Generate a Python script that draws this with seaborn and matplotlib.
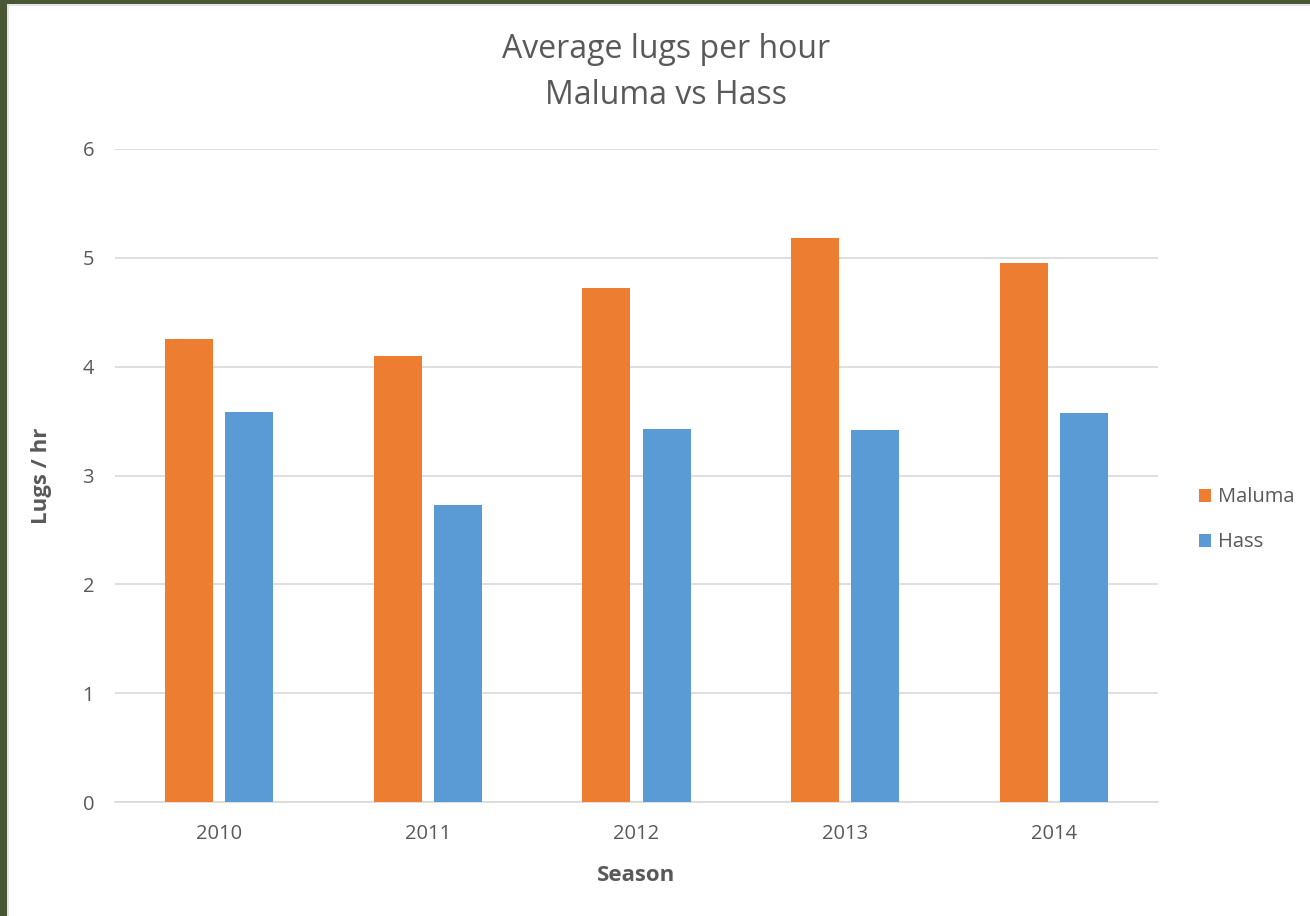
import matplotlib
matplotlib.use("Agg")
import matplotlib.pyplot as plt
import matplotlib.patches as mpatches
import seaborn as sns
import pandas as pd

seasons = ["2010", "2011", "2012", "2013", "2014"]
maluma = [4.25, 4.10, 4.72, 5.18, 4.95]
hass = [3.58, 2.73, 3.43, 3.42, 3.57]
series_names = ["Maluma", "Hass"]
colors = ["#ED7D31", "#5B9BD5"]

df = pd.DataFrame({
    "Season": seasons * 2,
    "Value": maluma + hass,
    "Variety": [series_names[0]] * len(seasons) + [series_names[1]] * len(seasons),
})

sns.set_theme(style="white")
plt.rcParams['font.family'] = ['Open Sans', 'DejaVu Sans']

fig = plt.figure(figsize=(13.1, 9.16), dpi=100)
fig.patch.set_facecolor("white")
# dark green frame on left and top
fig.patches.append(mpatches.Rectangle((0, 0), 7/1310, 1, transform=fig.transFigure,
                                      facecolor="#4a5735", edgecolor="none", zorder=0))
fig.patches.append(mpatches.Rectangle((0, 1 - 4/916), 1, 4/916, transform=fig.transFigure,
                                      facecolor="#4a5735", edgecolor="none", zorder=0))
fig.patches.append(mpatches.Rectangle((7/1310, 0), 2/1310, 1 - 4/916, transform=fig.transFigure,
                                      facecolor="#e4e4ea", edgecolor="none", zorder=0))
fig.patches.append(mpatches.Rectangle((7/1310, 1 - 6/916), 1, 2/916, transform=fig.transFigure,
                                      facecolor="#e4e4ea", edgecolor="none", zorder=0))

ax = fig.add_axes([115/1310, 1 - 802/916, (1158 - 115)/1310, (802 - 149)/916])

sns.barplot(data=df, x="Season", y="Value", hue="Variety", palette=colors,
            width=0.576, gap=0.2, ax=ax, saturation=1, edgecolor="none", zorder=3)

ax.set_ylim(0, 6)
ax.set_yticks(range(0, 7))
ax.yaxis.grid(True, color="#d9d9d9", linewidth=1.2, zorder=0)
ax.set_axisbelow(True)
for s in ["top", "right", "left"]:
    ax.spines[s].set_visible(False)
ax.spines["bottom"].set_color("#d9d9d9")
ax.spines["bottom"].set_linewidth(1.2)
ax.tick_params(axis="both", length=0, labelsize=14.5, labelcolor="#595959")
ax.tick_params(axis="y", pad=15)
ax.tick_params(axis="x", pad=16)

ax.set_xlabel("Season", fontsize=16, fontweight="bold", color="#595959", labelpad=15)
ax.set_ylabel("Lugs / hr", fontsize=16, fontweight="bold", color="#595959", labelpad=22)

fig.text(666/1310, 1 - 50/916, "Average lugs per hour", ha="center", va="center",
         fontsize=23, color="#595959")
fig.text(666/1310, 1 - 95/916, "Maluma vs Hass", ha="center", va="center",
         fontsize=23, color="#595959")

leg = ax.legend(loc="center left", bbox_to_anchor=(1.022, 0.432), frameon=False,
                fontsize=14.5, handlelength=0.6, handleheight=0.6, handletextpad=0.35,
                labelspacing=1.25, labelcolor="#595959", title=None)

fig.savefig("out.png", dpi=100)
